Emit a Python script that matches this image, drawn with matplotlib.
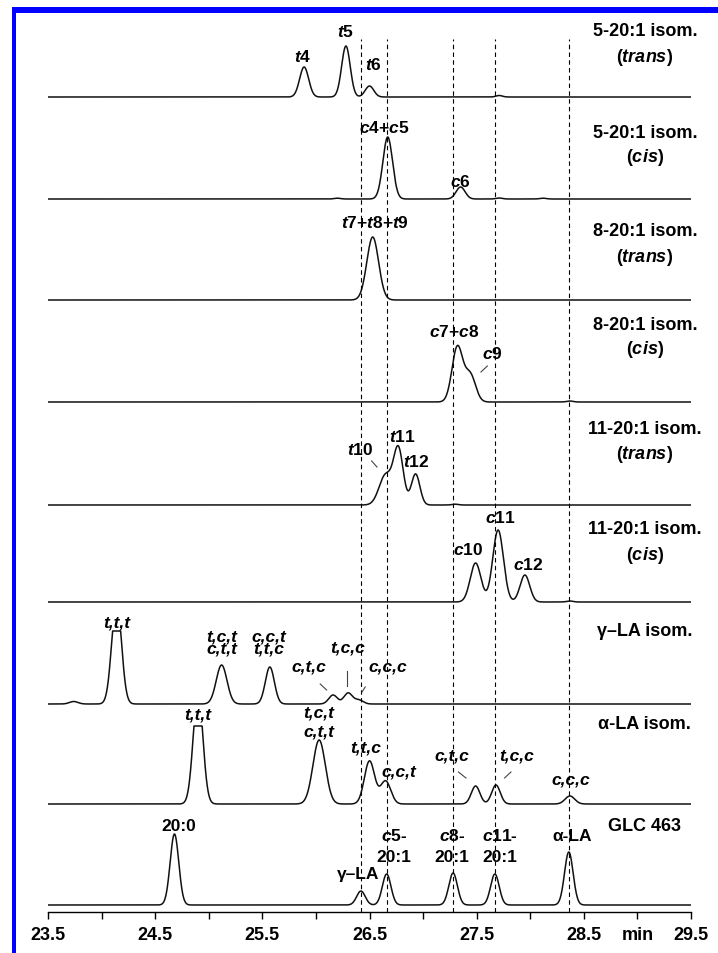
import numpy as np
import matplotlib.pyplot as plt
from matplotlib.patches import Rectangle

plt.rcParams['font.family'] = ['Liberation Sans', 'DejaVu Sans']
plt.rcParams['mathtext.fontset'] = 'custom'
plt.rcParams['mathtext.it'] = 'Liberation Sans:italic:bold'
plt.rcParams['mathtext.rm'] = 'Liberation Sans:bold'
plt.rcParams['mathtext.bf'] = 'Liberation Sans:bold'

# retention time axis (min)
x_ticks = [23.5, 24.0, 24.5, 25.0, 25.5, 26.0, 26.5, 27.0, 27.5, 28.0, 28.5, 29.0, 29.5]
x_ticklabels = ['23.5', '', '24.5', '', '25.5', '', '26.5', '', '27.5', '', '28.5', 'min', '29.5']

# dashed reference lines at the GLC 463 standard peaks
ref_lines = [26.42, 26.66, 27.28, 27.67, 28.36]

# traces top to bottom: vertical offset of each baseline
baselines = [815, 713, 612, 510, 407, 310, 208, 108, 7]
# detector cap (flat-topped peaks), None = no cap
caps = [None, None, None, None, None, None, 73, 78, None]

# peaks per trace: retention time, height, width (sigma)
trans5_rt = [25.89, 26.28, 26.50, 27.71]
trans5_h = [30, 51, 11, 1.5]
trans5_w = [0.042, 0.040, 0.040, 0.03]

cis5_rt = [26.20, 26.67, 27.35, 27.71, 28.12]
cis5_h = [0.8, 62, 12, 1.0, 0.8]
cis5_w = [0.03, 0.045, 0.042, 0.03, 0.03]

trans8_rt = [26.53]
trans8_h = [63]
trans8_w = [0.055]

cis8_rt = [27.32, 27.44, 28.37]
cis8_h = [55, 27, 1.0]
cis8_w = [0.05, 0.05, 0.03]

trans11_rt = [26.65, 26.77, 26.93, 27.30]
trans11_h = [30, 55, 31, 0.8]
trans11_w = [0.06, 0.045, 0.04, 0.03]

cis11_rt = [27.49, 27.70, 27.95, 28.37]
cis11_h = [39, 72, 27, 1.0]
cis11_w = [0.05, 0.05, 0.045, 0.03]

gla_rt = [23.74, 24.14, 25.12, 25.57, 26.16, 26.30, 26.40]
gla_h = [2.5, 104, 39, 37, 9, 11, 4]
gla_w = [0.04, 0.045, 0.05, 0.042, 0.04, 0.04, 0.04]

ala_rt = [24.90, 26.03, 26.50, 26.65, 27.49, 27.68, 28.37]
ala_h = [112, 64, 43, 23, 18, 19, 8]
ala_w = [0.045, 0.058, 0.048, 0.048, 0.04, 0.04, 0.045]

glc_rt = [24.68, 26.42, 26.66, 27.28, 27.67, 28.36]
glc_h = [71, 14, 31, 32, 31, 53]
glc_w = [0.04, 0.04, 0.04, 0.04, 0.04, 0.04]

traces = [(trans5_rt, trans5_h, trans5_w), (cis5_rt, cis5_h, cis5_w),
          (trans8_rt, trans8_h, trans8_w), (cis8_rt, cis8_h, cis8_w),
          (trans11_rt, trans11_h, trans11_w), (cis11_rt, cis11_h, cis11_w),
          (gla_rt, gla_h, gla_w), (ala_rt, ala_h, ala_w), (glc_rt, glc_h, glc_w)]

# trace names on the right (line 1, line 2)
names = [('5-20:1 isom.', r'($trans$)'), ('5-20:1 isom.', r'($cis$)'),
         ('8-20:1 isom.', r'($trans$)'), ('8-20:1 isom.', r'($cis$)'),
         ('11-20:1 isom.', r'($trans$)'), ('11-20:1 isom.', r'($cis$)'),
         ('γ–LA isom.', None), ('α-LA isom.', None), ('GLC 463', None)]
name_y = [881, 780, 681, 588, 483, 383, 281, 188, 86]

# peak labels: text, x (min), y, italic
peak_labels = [
    (r'$t$4', 25.88, 856, False), (r'$t$5', 26.28, 881, False), (r'$t$6', 26.54, 848, False),
    (r'$c$4+$c$5', 26.64, 785, False), (r'$c$6', 27.35, 731, False),
    (r'$t$7+$t$8+$t$9', 26.55, 690, False),
    (r'$c$7+$c$8', 27.29, 581, False), (r'$c$9', 27.65, 559, False),
    (r'$t$10', 26.41, 463, False), (r'$t$11', 26.81, 476, False), (r'$t$12', 26.94, 451, False),
    (r'$c$11', 27.72, 395, False), (r'$c$10', 27.42, 363, False), (r'$c$12', 27.98, 348, False),
    ('t,t,t', 24.14, 290, True), ('t,c,t\nc,t,t', 25.12, 270, True),
    ('c,c,t\nt,t,c', 25.56, 270, True), ('c,t,c', 25.93, 246, True),
    ('t,c,c', 26.30, 265, True), ('c,c,c', 26.67, 246, True),
    ('t,t,t', 24.90, 198, True), ('t,c,t', 26.03, 200, True), ('c,t,t', 26.03, 181, True),
    ('t,t,c', 26.46, 165, True), ('c,c,t', 26.77, 141, True), ('c,t,c', 27.27, 157, True),
    ('t,c,c', 27.87, 157, True), ('c,c,c', 28.38, 133, True),
    ('20:0', 24.72, 86, False), (r'$c$5-', 26.73, 77, False), ('20:1', 26.73, 55, False),
    (r'$c$8-', 27.27, 77, False), ('20:1', 27.27, 55, False),
    (r'$c$11-', 27.72, 77, False), ('20:1', 27.72, 55, False),
    ('α-LA', 28.39, 76, False), ('γ–LA', 26.39, 38, False),
]

# short leader lines from labels toward peaks
leaders = [((27.54, 540), (27.60, 546)), ((26.52, 451), (26.57, 445)),
           ((26.04, 228), (26.10, 222)), ((26.29, 241), (26.29, 226)),
           ((26.46, 225), (26.43, 220)), ((27.33, 140), (27.40, 134)),
           ((27.82, 140), (27.76, 134))]

fig = plt.figure(figsize=(7.18, 9.54), dpi=100)
ax = fig.add_axes([48 / 718, 41 / 954, 643 / 718, 913 / 954])

t = np.linspace(23.5, 29.5, 4000)
for (rt, h, w), base, cap in zip(traces, baselines, caps):
    y = np.zeros_like(t)
    for r, hh, ww in zip(rt, h, w):
        y += hh * np.exp(-0.5 * ((t - r) / ww) ** 2)
    if cap is not None:
        y = np.minimum(y, cap)
    ax.plot(t, base + y, color='#111111', lw=1.1)

for xr in ref_lines:
    ax.plot([xr, xr], [0, 873], color='black', lw=0.8, ls=(0, (4, 3)))

for (l1, l2), yy in zip(names, name_y):
    ax.text(29.07, yy, l1, ha='center', va='center', fontsize=13, fontweight='bold')
    if l2:
        ax.text(29.07, yy - 25, l2, ha='center', va='center', fontsize=13, fontweight='bold')

for txt, xx, yy, ital in peak_labels:
    ax.text(xx, yy, txt, ha='center', va='center', fontsize=12.5, fontweight='bold',
            fontstyle='italic' if ital else 'normal', linespacing=0.75)

for (x0, y0), (x1, y1) in leaders:
    ax.plot([x0, x1], [y0, y1], color='#444444', lw=0.8)

ax.set_xlim(23.5, 29.5)
ax.set_ylim(0, 913)
ax.set_xticks(x_ticks)
ax.set_xticklabels(x_ticklabels)
ax.set_yticks([])
for s in ['left', 'right', 'top']:
    ax.spines[s].set_visible(False)
ax.spines['bottom'].set_linewidth(1.0)
ax.tick_params(axis='x', direction='out', length=5, width=1, labelsize=13, pad=5)
for lbl in ax.get_xticklabels():
    lbl.set_fontweight('bold')

# blue frame on the left and top
fig.add_artist(Rectangle((12 / 718, 0), 4 / 718, 946 / 954, transform=fig.transFigure,
                         color='#0000ff', lw=0))
fig.add_artist(Rectangle((12 / 718, 940 / 954), 706 / 718, 6 / 954, transform=fig.transFigure,
                         color='#0000ff', lw=0))

fig.savefig('out.png', dpi=100)
